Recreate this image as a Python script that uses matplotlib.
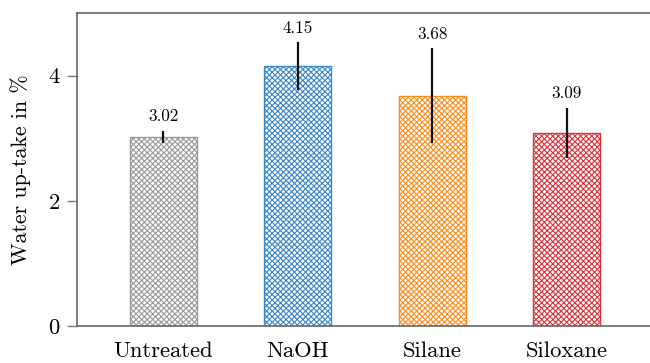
import matplotlib
matplotlib.use("Agg")
import matplotlib.pyplot as plt

categories = ["Untreated", "NaOH", "Silane", "Siloxane"]
values = [3.02, 4.15, 3.68, 3.09]
errors = [0.10, 0.38, 0.76, 0.40]
colors = ["#999999", "#3a87c8", "#ff8c1a", "#e0303a"]

plt.rcParams['font.family'] = ['cmr10', 'DejaVu Serif']
plt.rcParams['mathtext.fontset'] = 'cm'
plt.rcParams['axes.formatter.use_mathtext'] = True
plt.rcParams['hatch.linewidth'] = 0.8

fig = plt.figure(figsize=(6.5, 3.63), dpi=100)
ax = fig.add_axes([77/650, 1 - 326/363, 1 - 77/650, (326-13)/363])

x = list(range(len(categories)))
for xi, v, e, c in zip(x, values, errors, colors):
    ax.bar(xi, v, width=0.5, color="white", edgecolor=c, hatch="xxxxxx", linewidth=1.0)
    ax.errorbar(xi, v, yerr=e, color="#111111", linewidth=1.6, capsize=0)
    ax.text(xi, v + e + 0.1, f"{v:.2f}", ha="center", va="bottom", fontsize=12.3)

ax.set_xlim(-0.643, 3.62)
ax.set_ylim(0, 5)
ax.set_yticks([0, 2, 4])
ax.set_xticks(x)
ax.set_xticklabels(categories, fontsize=16.3)
ax.tick_params(axis='y', labelsize=16.3, length=7, color="#777777", width=1, pad=5)
ax.tick_params(axis='x', length=0, pad=11)
ax.set_ylabel("Water up-take in %", fontsize=15.8, labelpad=12)
for s in ["left", "top", "bottom"]:
    ax.spines[s].set_color("#666666")
    ax.spines[s].set_linewidth(1.2)
ax.spines["right"].set_visible(False)

fig.savefig("out.png", dpi=100)
